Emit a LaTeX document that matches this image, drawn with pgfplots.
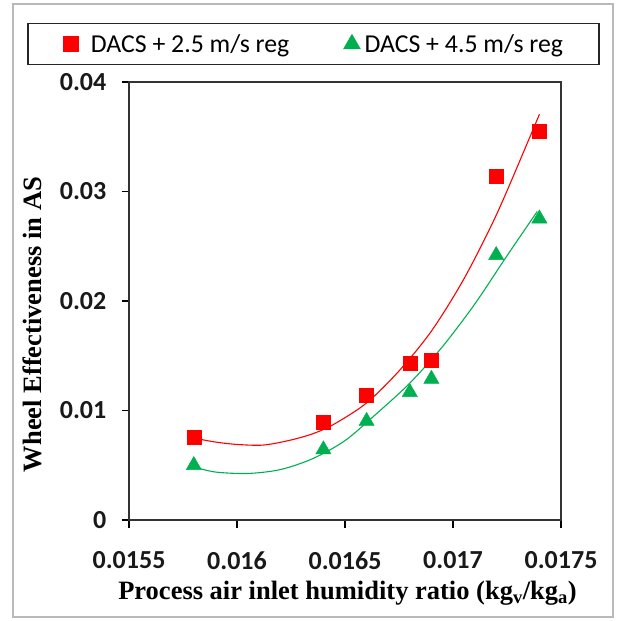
\documentclass[border=0pt]{standalone}
\usepackage{fontspec}
\setmainfont{Carlito}
\newfontfamily\titlefont{Liberation Serif}
\usepackage{pgfplots}
\usepackage{pgfplotstable}
\pgfplotsset{compat=1.18}

\definecolor{dacsred}{RGB}{255,0,0}
\definecolor{dacsgreen}{RGB}{0,176,80}
\definecolor{framegray}{RGB}{185,185,185}

% measured wheel effectiveness, 2.5 m/s regeneration
\pgfplotstableread{
x y
0.0158 0.00757
0.0164 0.00894
0.0166 0.01136
0.0168 0.01430
0.0169 0.01461
0.0172 0.03136
0.0174 0.03552
}\redpts

% measured wheel effectiveness, 4.5 m/s regeneration
\pgfplotstableread{
x y
0.0158 0.00500
0.0164 0.00643
0.0166 0.00903
0.0168 0.01167
0.0169 0.01288
0.0172 0.02418
0.0174 0.02752
}\greenpts

% trend line, 2.5 m/s
\pgfplotstableread{
x y
0.01580 0.00748
0.01590 0.00712
0.01600 0.00690
0.01612 0.00684
0.01624 0.00726
0.01635 0.00787
0.01645 0.00876
0.01660 0.01069
0.01675 0.01361
0.01690 0.01725
0.01705 0.02200
0.01720 0.02783
0.01735 0.03470
0.01740 0.03705
}\redfit

% trend line, 4.5 m/s
\pgfplotstableread{
x y
0.01580 0.00485
0.01590 0.00438
0.01605 0.00425
0.01620 0.00460
0.01635 0.00560
0.01650 0.00725
0.01665 0.00978
0.01680 0.01250
0.01695 0.01580
0.01710 0.01970
0.01725 0.02413
0.01739 0.02818
}\greenfit

\begin{document}
\begin{tikzpicture}
\useasboundingbox (0,0) rectangle (617pt,621pt);
\draw[framegray, line width=1.6pt] (13pt,4pt) rectangle (613pt,617pt);
\begin{axis}[
  at={(129pt,101pt)}, anchor=south west,
  scale only axis, width=432pt, height=438pt,
  xmin=0.0155, xmax=0.0175, ymin=0, ymax=0.04,
  xtick={0.0155,0.016,0.0165,0.017,0.0175},
  xticklabels={0.0155,0.016,0.0165,0.017,0.0175},
  ytick={0,0.01,0.02,0.03,0.04},
  yticklabels={0,0.01,0.02,0.03,0.04},
  scaled ticks=false,
  xtick pos=left, ytick pos=left,
  tick align=outside, major tick length=7.5pt,
  tick style={black, line width=1.4pt},
  axis line style={black!80, line width=1.6pt},
  /pgf/number format/assume math mode=true,
  ticklabel style={font=\fontsize{26}{30}\selectfont\bfseries, inner sep=0pt, text=black!90},
  xticklabel style={anchor=north, yshift=-24pt},
  yticklabel style={anchor=east, xshift=-15pt},
  xlabel={Process air inlet humidity ratio (kg\textsubscript{v}/kg\textsubscript{a})},
  ylabel={Wheel Effectiveness in AS},
  label style={font=\titlefont\bfseries\fontsize{26.5}{30}\selectfont, inner sep=0pt},
  xlabel style={at={(axis description cs:0.5058,-0.1826)}, anchor=base},
  ylabel style={at={(axis description cs:-0.2014,0.4463)}, anchor=base, rotate=0},
  legend image code/.code={\draw[#1] plot coordinates {(0pt,0pt)};},
  legend style={
    at={(axis description cs:0.427,1.0868)}, anchor=center,
    draw=black!85, line width=1.4pt, fill=white,
    font=\fontsize{25.8}{30}\selectfont,
    legend columns=2,
    inner xsep=36pt, inner ysep=11pt,
    nodes={inner sep=0pt},
    /tikz/column 1/.style={column sep=13pt},
    /tikz/column 2/.style={column sep=55pt},
    /tikz/column 3/.style={column sep=5pt},
  },
  legend cell align=left,
]
\addplot[only marks, mark=square*, mark size=7pt, color=dacsred] table[x=x,y=y] {\redpts};
\addlegendentry{DACS + 2.5 m/s reg}
\addplot[only marks, mark=triangle*, mark size=8.8pt, color=dacsgreen] table[x=x,y=y] {\greenpts};
\addlegendentry{DACS + 4.5 m/s reg}
\addplot[forget plot, smooth, no marks, color=dacsred, line width=1.1pt] table[x=x,y=y] {\redfit};
\addplot[forget plot, smooth, no marks, color=dacsgreen, line width=1.1pt] table[x=x,y=y] {\greenfit};
\end{axis}
\end{tikzpicture}
\end{document}
